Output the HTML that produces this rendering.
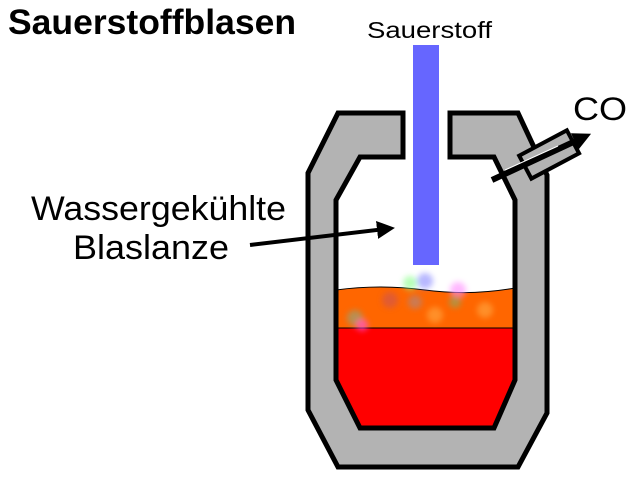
<!DOCTYPE html>
<html><head><meta charset="utf-8"><style>
html,body{margin:0;padding:0;background:#fff;width:640px;height:480px;overflow:hidden}
svg{display:block}
text{font-family:"Liberation Sans",sans-serif}
</style></head><body>
<svg width="640" height="480" viewBox="0 0 640 480" xmlns="http://www.w3.org/2000/svg">
<defs>
<filter id="bl"><feGaussianBlur stdDeviation="3"/></filter>
<marker id="ah" markerWidth="18" markerHeight="18" refX="8" refY="9" orient="auto" markerUnits="userSpaceOnUse">
<path d="M0,0 L18,9 L0,18 Z" fill="#000"/></marker>
</defs>
<text x="8" y="34" font-size="35" font-weight="bold" textLength="288" lengthAdjust="spacingAndGlyphs">Sauerstoffblasen</text>
<text x="367" y="38" font-size="23" textLength="125" lengthAdjust="spacingAndGlyphs">Sauerstoff</text>
<text x="31" y="220" font-size="34" textLength="255" lengthAdjust="spacingAndGlyphs">Wassergekühlte</text>
<text x="73" y="259" font-size="34" textLength="156" lengthAdjust="spacingAndGlyphs">Blaslanze</text>
<text x="573" y="120" font-size="32" textLength="54" lengthAdjust="spacingAndGlyphs">CO</text>
<!-- liquids -->
<path d="M336,290 Q380,284 425,290 T515,288 L515,328 L336,328 Z" fill="#ff6600" stroke="#000" stroke-width="1"/>
<path d="M336,328 L515,328 L515,380 L494,428 L360,428 L336,380 Z" fill="#ff0000"/>
<line x1="336" y1="328" x2="515" y2="328" stroke="#000" stroke-width="1"/>
<g filter="url(#bl)" opacity="0.6">
<circle cx="425" cy="281" r="8" fill="#88f"/><circle cx="410" cy="283" r="7" fill="#8f8"/>
<circle cx="458" cy="290" r="8" fill="#f8f"/><circle cx="390" cy="300" r="8" fill="#c55"/>
<circle cx="415" cy="302" r="7" fill="#a88"/><circle cx="435" cy="315" r="8" fill="#fa4"/>
<circle cx="485" cy="310" r="8" fill="#fa4"/><circle cx="355" cy="318" r="8" fill="#8a8"/>
<circle cx="362" cy="325" r="6" fill="#f5f"/><circle cx="455" cy="302" r="6" fill="#8a6"/>
</g>
<!-- shell -->
<path fill="#b3b3b3" stroke="#000" stroke-width="5" stroke-linejoin="miter"
d="M338,113 L403,113 L403,157 L360,157 L336,200 L336,380 L360,428 L494,428 L515,380 L515,200 L494,157 L450,157 L450,113 L518,113 L547,175 L547,413 L518,467 L338,467 L308,410 L308,173 Z"/>
<!-- lance -->
<rect x="413" y="45" width="26" height="220" fill="#6666ff"/>
<!-- pipe -->
<g transform="translate(550,154) rotate(-28)">
<rect x="-28" y="-13" width="54" height="26" fill="#b3b3b3" stroke="#000" stroke-width="4"/>
</g>
<line x1="492" y1="180" x2="582" y2="138" stroke="#000" stroke-width="6" marker-end="url(#ah)"/>
<line x1="505" y1="170" x2="558" y2="146" stroke="#fff" stroke-width="1"/>
<line x1="250" y1="245" x2="385" y2="229" stroke="#000" stroke-width="4" marker-end="url(#ah)"/>
</svg>
</body></html>
